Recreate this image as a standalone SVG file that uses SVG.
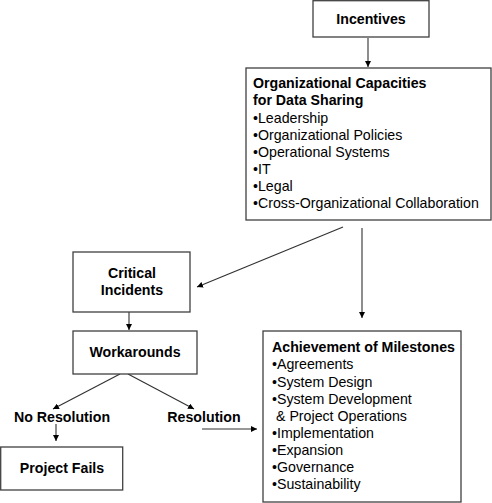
<svg xmlns="http://www.w3.org/2000/svg" width="492" height="503" viewBox="0 0 492 503">
<style>
.box{fill:#fff;stroke:#404040;stroke-width:1.3}
.t{font-family:"Liberation Sans",Arial,sans-serif;font-size:14.2px;fill:#000}
.b{font-weight:bold}
.c{text-anchor:middle}
.ln{stroke:#303030;stroke-width:1.1;fill:none;marker-end:url(#ah)}
</style>
<defs>
<marker id="ah" viewBox="0 0 10 10" refX="10" refY="5" markerWidth="6" markerHeight="6" markerUnits="userSpaceOnUse" orient="auto">
<path d="M0,0 L10,5 L0,10 z" fill="#000"/>
</marker>
</defs>
<rect width="492" height="503" fill="#fff"/>
<g id="connectors">
<line class="ln" x1="368" y1="38" x2="368" y2="67"/>
<line class="ln" x1="343" y1="227" x2="197" y2="287"/>
<line class="ln" x1="362" y1="228" x2="362" y2="318"/>
<line class="ln" x1="129" y1="312" x2="129" y2="330"/>
<line class="ln" x1="120" y1="374" x2="53" y2="409"/>
<line class="ln" x1="128" y1="374" x2="194" y2="409"/>
<line class="ln" x1="56" y1="424" x2="56" y2="441"/>
<line class="ln" x1="202" y1="429" x2="257" y2="429"/>
</g>
<g id="incentives">
<rect class="box" x="313" y="0.7" width="116" height="36.3"/>
<text class="t b c" x="371" y="24">Incentives</text>
</g>
<g id="capacities">
<rect class="box" x="246" y="68" width="245" height="152"/>
<text class="t" x="253" y="88"><tspan class="b">Organizational Capacities</tspan><tspan class="b" x="253" y="105">for Data Sharing</tspan><tspan x="253" y="123">•Leadership</tspan><tspan x="253" y="140">•Organizational Policies</tspan><tspan x="253" y="157">•Operational Systems</tspan><tspan x="253" y="174">•IT</tspan><tspan x="253" y="191">•Legal</tspan><tspan x="253" y="208">•Cross-Organizational Collaboration</tspan></text>
</g>
<g id="critical">
<rect class="box" x="73" y="252" width="117" height="60"/>
<text class="t b c" x="132" y="278">Critical<tspan x="132" y="295">Incidents</tspan></text>
</g>
<g id="workarounds">
<rect class="box" x="73" y="331" width="124" height="43"/>
<text class="t b c" x="135" y="357">Workarounds</text>
</g>
<g id="noresolution">
<text class="t b c" x="62" y="422">No Resolution</text>
</g>
<g id="resolution">
<text class="t b c" x="204" y="422">Resolution</text>
</g>
<g id="projectfails">
<rect class="box" x="0.7" y="447" width="122" height="43"/>
<text class="t b c" x="62" y="473">Project Fails</text>
</g>
<g id="milestones">
<rect class="box" x="263" y="331" width="198" height="171"/>
<text class="t" x="272" y="352"><tspan class="b">Achievement of Milestones</tspan><tspan x="272" y="369">•Agreements</tspan><tspan x="272" y="387">•System Design</tspan><tspan x="272" y="404">•System Development</tspan><tspan x="276" y="421">&amp; Project Operations</tspan><tspan x="272" y="438">•Implementation</tspan><tspan x="272" y="455">•Expansion</tspan><tspan x="272" y="472">•Governance</tspan><tspan x="272" y="489">•Sustainability</tspan></text>
</g>
</svg>
